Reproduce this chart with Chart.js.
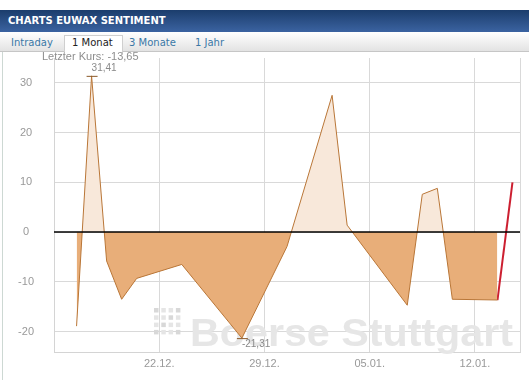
<!DOCTYPE html>
<html><head><meta charset="utf-8">
<script src="https://cdn.jsdelivr.net/npm/chart.js@4/dist/chart.umd.min.js"></script>
<style>
html,body{margin:0;padding:0;background:#fff;width:529px;height:380px;overflow:hidden;position:relative}
#hdr{position:absolute;left:0;top:10px;width:529px;height:22px;background:linear-gradient(#1b3d6c,#3b63a1);}
#hdr span{position:absolute;left:8px;top:5px;color:#fff;font:bold 10px 'DejaVu Sans',sans-serif;letter-spacing:0px}
#tabs{position:absolute;left:0;top:32px;width:529px;height:19px;background:linear-gradient(#ffffff,#e3e3e3);border-bottom:1px solid #c6c6c6}
#sel{position:absolute;left:64px;top:3px;width:57px;height:17px;background:#fff;border:1px solid #cfcfcf;border-bottom:none}
.tab{position:absolute;top:5px;font:10px 'DejaVu Sans',sans-serif;color:#3a78a6;white-space:nowrap}
#lk{position:absolute;left:42px;top:50px;font:11px 'Liberation Sans',Arial,sans-serif;color:#8e8e8e;z-index:5;white-space:nowrap}
#lb{position:absolute;left:2px;top:52px;width:1px;height:328px;background:#cdd8d3}
#c{position:absolute;left:0;top:52px}
</style></head>
<body>
<div id="hdr"><span>CHARTS EUWAX SENTIMENT</span></div>
<div id="tabs"><div id="sel"></div>
<span class="tab" style="left:11px">Intraday</span>
<span class="tab" style="left:72px;color:#222">1 Monat</span>
<span class="tab" style="left:129px">3 Monate</span>
<span class="tab" style="left:195px">1 Jahr</span>
</div>
<div id="lb"></div>
<div id="lk">Letzter Kurs: -13,65</div>
<canvas id="c" width="529" height="328"></canvas>
<script>
// days since 15.12.
const days = [1.5, 2.5, 3.5, 4.5, 5.5, 8.5, 12.5, 15.5, 18.5, 19.5, 23.5, 24.5, 25.5, 26.5, 29.5];
const sentiment = [-18.9, 31.41, -5.8, -13.5, -9.3, -6.5, -21.31, -2.9, 27.5, 1.4, -14.7, 7.6, 8.8, -13.5, -13.65];
const lastDays = [29.5, 30.5];
const lastValues = [-13.65, 10.0];
const xTickDays = [0, 7, 14, 21, 28, 31];
const xTickLabels = ['', '22.12.', '29.12.', '05.01.', '12.01.', ''];
const yTicks = [-20, -10, 0, 10, 20, 30];

const mainPts = days.map((d, i) => ({x: d, y: sentiment[i]}));
const lastPts = lastDays.map((d, i) => ({x: d, y: lastValues[i]}));

const fmt = v => v.toFixed(2).replace('.', ',');

const overlay = {
  id: 'overlay',
  beforeDatasetsDraw(chart) {
    const ctx = chart.ctx;
    ctx.save();
    for (let r = 0; r < 4; r++) for (let c = 0; c < 4; c++) {
      ctx.fillStyle = ((r + c) % 3 === 0) ? '#d8d8d8' : '#e5e5e5';
      ctx.fillRect(154 + c * 7.3, 256 + r * 7.3, 4.5, 4.5);
    }
    ctx.font = 'bold 39px "Liberation Sans", Arial, sans-serif';
    const txt = 'Boerse Stuttgart';
    const w = ctx.measureText(txt).width;
    ctx.translate(190, 294);
    ctx.scale(323 / w, 1);
    ctx.fillStyle = '#e6e6e6';
    ctx.textBaseline = 'alphabetic';
    ctx.fillText(txt, 0, 0);
    ctx.restore();
  },
  afterDatasetDraw(chart, args) {
    if (args.index !== 0) return;
    const ctx = chart.ctx, a = chart.chartArea;
    const y0 = chart.scales.y.getPixelForValue(0);
    ctx.save();
    ctx.strokeStyle = '#000';
    ctx.lineWidth = 1.5;
    ctx.beginPath(); ctx.moveTo(a.left, y0); ctx.lineTo(a.right, y0); ctx.stroke();
    const meta = chart.getDatasetMeta(0);
    const iMax = sentiment.indexOf(Math.max(...sentiment));
    const iMin = sentiment.indexOf(Math.min(...sentiment));
    ctx.font = '10px "Liberation Sans", Arial, sans-serif';
    ctx.fillStyle = '#8a8a8a';
    ctx.textAlign = 'left';
    [[iMax, -1], [iMin, 1]].forEach(([i, dir]) => {
      const p = meta.data[i];
      ctx.strokeStyle = '#8b5a2b'; ctx.lineWidth = 1;
      ctx.beginPath(); ctx.moveTo(p.x - 5, p.y + 0.5); ctx.lineTo(p.x + 6, p.y + 0.5); ctx.stroke();
      if (dir < 0) { ctx.textBaseline = 'bottom'; ctx.fillText(fmt(sentiment[i]), p.x, p.y - 3); }
      else { ctx.textBaseline = 'top'; ctx.fillText(fmt(sentiment[i]), p.x, p.y + 1); }
    });
    ctx.restore();
  }
};

new Chart(document.getElementById('c'), {
  type: 'line',
  data: {
    datasets: [
      { data: mainPts, borderColor: '#b97637', borderWidth: 1, pointRadius: 0, tension: 0,
        fill: { target: { value: 0 }, above: '#f8e8da', below: '#e8ae79' } },
      { data: lastPts, borderColor: '#cc1f30', borderWidth: 2, pointRadius: 0, tension: 0, fill: false }
    ]
  },
  options: {
    responsive: false, animation: false, devicePixelRatio: 1,
    layout: { padding: { top: 6, right: 9, left: 0, bottom: 0 } },
    plugins: { legend: { display: false }, tooltip: { enabled: false } },
    scales: {
      x: {
        type: 'linear', min: 0, max: 31,
        afterBuildTicks: s => { s.ticks = xTickDays.map(v => ({ value: v })); },
        afterFit: s => { s.height = 28; s.paddingLeft = 0; s.paddingRight = 0; },
        ticks: { callback: (v) => xTickLabels[xTickDays.indexOf(v)] ?? '', color: '#999', font: { family: 'Liberation Sans', size: 11 }, padding: 5, maxRotation: 0, autoSkip: false },
        grid: { color: '#d9d9d9', drawTicks: false, lineWidth: 1 },
        border: { display: true, color: '#d4d4d4' }
      },
      y: {
        min: -24.1, max: 35,
        afterBuildTicks: s => { s.ticks = yTicks.map(v => ({ value: v })); },
        afterFit: s => { s.width = 54; s.paddingTop = 0; s.paddingBottom = 0; },
        ticks: { color: '#999', font: { family: 'Liberation Sans', size: 11 }, padding: 20, crossAlign: 'center' },
        grid: { color: '#d9d9d9', drawTicks: false },
        border: { display: true, color: '#d4d4d4' }
      }
    }
  },
  plugins: [overlay]
});
</script>
</body></html>
